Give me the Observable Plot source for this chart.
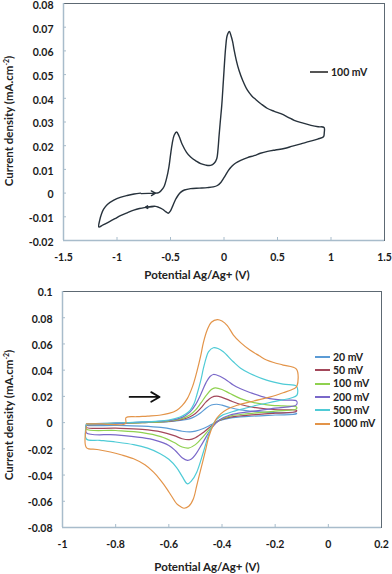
<!DOCTYPE html>
<html><head><meta charset="utf-8">
<script src="https://cdn.jsdelivr.net/npm/d3@7"></script>
<script src="https://cdn.jsdelivr.net/npm/@observablehq/plot@0.6"></script>
<style>
body{margin:0;background:#fff;}
#wrap{position:relative;width:392px;height:574px;font-family:Lato,"Open Sans",sans-serif;overflow:hidden;}
.panel{position:absolute;left:0;width:392px;}
.ov{position:absolute;white-space:nowrap;font-weight:bold;color:#222;font-size:11.5px;line-height:1;}
.ytitle{transform:translate(-50%,-50%) rotate(-90deg);}
.xtitle{transform:translate(-50%,-50%);}
.leg{position:absolute;font-weight:bold;font-size:10.5px;color:#222;white-space:nowrap;line-height:1;}
.leg span.sw{display:inline-block;vertical-align:middle;height:0;border-top:2px solid;margin-right:3px;}
.leg span.tx{vertical-align:middle;}
</style></head><body>
<div id="wrap">
  <div class="panel" id="top" style="top:0;height:285px;"></div>
  <div class="panel" id="bot" style="top:285px;height:289px;"></div>
</div>
<script>
// ---------- Top chart data ----------
const topXTicks = [-1.5, -1, -0.5, 0, 0.5, 1, 1.5];
const topYTicks = [-0.02, -0.01, 0, 0.01, 0.02, 0.03, 0.04, 0.05, 0.06, 0.07, 0.08];
const topSeriesName = "100 mV";
const topCV = [
  [-0.64,0.0],[-0.61,0.0002],[-0.585,0.0012],[-0.56,0.0028],[-0.535,0.0065],[-0.515,0.011],[-0.5,0.016],
  [-0.484,0.0209],[-0.465,0.0245],[-0.443,0.0258],[-0.42,0.024],[-0.39,0.0205],[-0.35,0.0172],[-0.312,0.0152],
  [-0.26,0.0135],[-0.218,0.0124],[-0.17,0.0118],[-0.125,0.0117],[-0.09,0.0127],[-0.068,0.0145],[-0.055,0.019],
  [-0.047,0.0237],[-0.035,0.03],[-0.021,0.037],[-0.005,0.048],[0.016,0.0617],[0.03,0.0665],[0.05,0.0682],
  [0.065,0.0665],[0.08,0.064],[0.094,0.0605],[0.115,0.056],[0.14,0.0518],[0.175,0.0475],[0.219,0.0434],
  [0.26,0.041],[0.297,0.0395],[0.35,0.0375],[0.407,0.0357],[0.47,0.0345],[0.531,0.0335],[0.6,0.032],
  [0.656,0.0307],[0.74,0.0295],[0.813,0.0286],[0.88,0.028],[0.935,0.0277],[0.937,0.0255],[0.93,0.0238],
  [0.875,0.0228],[0.8,0.0218],[0.719,0.0208],[0.64,0.0198],[0.562,0.0188],[0.48,0.0182],[0.407,0.0176],
  [0.34,0.0168],[0.281,0.0158],[0.22,0.015],[0.156,0.0138],[0.11,0.0127],[0.078,0.0115],[0.04,0.0095],
  [0.0,0.0065],[-0.03,0.0045],[-0.062,0.0032],[-0.1,0.0026],[-0.156,0.0023],[-0.23,0.0021],[-0.312,0.0019],
  [-0.37,0.0013],[-0.406,0.0003],[-0.43,-0.001],[-0.453,-0.0027],[-0.48,-0.0055],[-0.5,-0.0075],[-0.521,-0.0085],
  [-0.545,-0.0078],[-0.578,-0.0067],[-0.61,-0.006],[-0.64,-0.0056],[-0.69,-0.0057],[-0.734,-0.006],[-0.79,-0.0065],
  [-0.843,-0.0072],[-0.9,-0.0082],[-0.968,-0.0095],[-1.02,-0.0108],[-1.078,-0.0122],[-1.13,-0.0134],[-1.17,-0.0143],
  [-1.162,-0.0115],[-1.145,-0.0088],[-1.125,-0.0068],[-1.09,-0.0048],[-1.03,-0.003],[-0.97,-0.0018],[-0.905,-0.001],
  [-0.84,-0.0004],[-0.78,0.0]
];
const topArrows = [
  {x1:-0.775, y1:-0.0002, x2:-0.64, y2:0.0, dashed:true},
  {x1:-0.66, y1:-0.0057, x2:-0.735, y2:-0.006, dashed:false}
];

// ---------- Bottom chart data ----------
const botXTicks = [-1, -0.8, -0.6, -0.4, -0.2, 0, 0.2];
const botYTicks = [-0.08, -0.06, -0.04, -0.02, 0, 0.02, 0.04, 0.06, 0.08, 0.1];
const rates = ["20 mV", "50 mV", "100 mV", "200 mV", "500 mV", "1000 mV"];
const rateColors = ["#5b9bd5", "#a3475a", "#8fd14f", "#7a68c9", "#4fcbd6", "#e39449"];
const v20 = [
  [-0.91,-0.001],[-0.85,-0.0006],[-0.8,-0.0003],[-0.7,0.0002],[-0.6,0.0008],[-0.55,0.0018],[-0.52,0.003],
  [-0.5,0.0048],[-0.48,0.0075],[-0.46,0.011],[-0.44,0.0134],[-0.42,0.014],[-0.4,0.0133],[-0.37,0.0115],
  [-0.33,0.0097],[-0.28,0.0085],[-0.23,0.0078],[-0.17,0.0074],[-0.12,0.0072],
  [-0.12,0.0066],[-0.2,0.0058],[-0.3,0.0047],[-0.37,0.0034],[-0.41,0.0015],[-0.44,-0.0015],[-0.47,-0.0045],
  [-0.5,-0.0065],[-0.52,-0.0071],[-0.55,-0.0066],[-0.58,-0.0053],[-0.63,-0.0037],[-0.7,-0.0027],[-0.8,-0.0021],
  [-0.91,-0.0018],[-0.91,-0.001]
];
const v50 = [
  [-0.91,-0.0015],[-0.85,-0.001],[-0.8,-0.0006],[-0.7,0],[-0.6,0.001],[-0.55,0.0025],[-0.52,0.0045],[-0.5,0.007],
  [-0.48,0.011],[-0.46,0.0158],[-0.44,0.0192],[-0.42,0.0202],[-0.4,0.0193],[-0.37,0.0168],[-0.33,0.0138],
  [-0.28,0.0116],[-0.23,0.0104],[-0.17,0.0097],[-0.12,0.0094],
  [-0.12,0.0085],[-0.2,0.0072],[-0.3,0.0057],[-0.37,0.0042],[-0.41,0.0017],[-0.44,-0.0025],[-0.47,-0.0075],
  [-0.5,-0.0115],[-0.5225,-0.013],[-0.55,-0.0123],[-0.58,-0.0099],[-0.63,-0.007],[-0.7,-0.0052],[-0.8,-0.0042],
  [-0.91,-0.0036],[-0.91,-0.0015]
];
const v100 = [
  [-0.91,-0.002],[-0.85,-0.0013],[-0.8,-0.0008],[-0.7,0],[-0.6,0.0012],[-0.55,0.003],[-0.52,0.006],[-0.5,0.0095],
  [-0.48,0.0148],[-0.46,0.0205],[-0.44,0.0252],[-0.426,0.0265],[-0.4,0.0253],[-0.37,0.0222],[-0.33,0.0183],
  [-0.28,0.0152],[-0.23,0.0136],[-0.17,0.0127],[-0.12,0.012],
  [-0.12,0.0105],[-0.2,0.0088],[-0.3,0.0068],[-0.37,0.005],[-0.41,0.0018],[-0.44,-0.0035],[-0.47,-0.0105],
  [-0.5,-0.0168],[-0.526,-0.0194],[-0.55,-0.0186],[-0.58,-0.0152],[-0.63,-0.0107],[-0.7,-0.0076],[-0.8,-0.006],
  [-0.91,-0.005],[-0.91,-0.002]
];
const v200 = [
  [-0.91,-0.002],[-0.85,-0.0012],[-0.8,-0.0006],[-0.7,0.0003],[-0.6,0.0016],[-0.55,0.004],[-0.52,0.0082],
  [-0.5,0.0135],[-0.48,0.0215],[-0.46,0.0305],[-0.445,0.0352],[-0.4325,0.0367],[-0.41,0.0355],[-0.38,0.032],
  [-0.3575,0.0286],[-0.33,0.0258],[-0.295,0.023],[-0.2325,0.0189],[-0.17,0.0171],[-0.12,0.0166],
  [-0.12,0.0135],[-0.2,0.011],[-0.3,0.0082],[-0.37,0.0058],[-0.41,0.002],[-0.44,-0.0045],[-0.47,-0.0145],
  [-0.5,-0.0245],[-0.515,-0.0278],[-0.53,-0.0288],[-0.55,-0.0268],[-0.575,-0.0215],[-0.6,-0.0174],
  [-0.65,-0.0135],[-0.7,-0.0115],[-0.8,-0.0093],[-0.91,-0.0078],[-0.91,-0.002]
];
const v500 = [
  [-0.91,-0.0012],[-0.85,-0.0008],[-0.8,-0.0003],[-0.7,0.0005],[-0.65,0.001],[-0.6,0.002],[-0.5575,0.0043],
  [-0.535,0.0068],[-0.52,0.0094],[-0.505,0.0145],[-0.495,0.0209],[-0.48,0.032],[-0.47,0.0413],[-0.46,0.049],
  [-0.451,0.054],[-0.4325,0.0571],[-0.415,0.0565],[-0.395,0.054],[-0.3575,0.0464],[-0.33,0.0415],
  [-0.295,0.0375],[-0.2325,0.0324],[-0.17,0.0293],[-0.12,0.0278],
  [-0.118,0.021],[-0.14,0.0188],[-0.2,0.0162],[-0.28,0.0127],[-0.35,0.009],[-0.4,0.0055],[-0.42,0.0025],
  [-0.4325,-0.0008],[-0.451,-0.0097],[-0.47,-0.0224],[-0.495,-0.0378],[-0.515,-0.0445],[-0.53,-0.0467],
  [-0.55,-0.041],[-0.57,-0.0345],[-0.6,-0.028],[-0.6325,-0.0237],[-0.68,-0.0195],[-0.7325,-0.0168],
  [-0.8,-0.0148],[-0.86,-0.0135],[-0.91,-0.0125],[-0.91,-0.0012]
];
const v1000 = [
  [-0.91,-0.001],[-0.85,-0.0009],[-0.763,-0.0008],[-0.761,0.0038],[-0.72,0.0045],[-0.68,0.005],[-0.63,0.0058],
  [-0.6,0.007],[-0.57,0.0095],[-0.55,0.013],[-0.53,0.0185],[-0.51,0.028],[-0.495,0.0385],[-0.48,0.051],
  [-0.47,0.061],[-0.455,0.071],[-0.44,0.0765],[-0.4175,0.0786],[-0.4,0.0775],[-0.38,0.074],[-0.357,0.0668],
  [-0.33,0.061],[-0.295,0.0554],[-0.26,0.051],[-0.2325,0.0477],[-0.2,0.0455],[-0.17,0.0439],[-0.12,0.0408],
  [-0.118,0.028],[-0.13,0.0258],[-0.17,0.0228],[-0.2175,0.0196],[-0.28,0.0165],[-0.343,0.0132],[-0.38,0.0102],
  [-0.406,0.0065],[-0.42,0.0032],[-0.431,-0.0008],[-0.45,-0.011],[-0.462,-0.0212],[-0.4825,-0.0378],
  [-0.495,-0.048],[-0.5075,-0.058],[-0.525,-0.0638],[-0.5425,-0.0653],[-0.555,-0.0642],[-0.57,-0.062],
  [-0.59,-0.056],[-0.6075,-0.0505],[-0.63,-0.0443],[-0.6575,-0.0378],[-0.69,-0.0322],[-0.7325,-0.0276],
  [-0.78,-0.0245],[-0.82,-0.0224],[-0.87,-0.0205],[-0.91,-0.019],[-0.91,-0.003]
];
const botArrow = [{x1:-0.7475, y1:0.0196, x2:-0.635, y2:0.0196}];

// ---------- styling ----------
const frameDark = "#5d6973";
const axisLight = "#a8bccb";
const fmt = d => String(Math.round(d * 100) / 100);
const axisStyle = {fontFamily: "Lato, 'Open Sans', sans-serif", fontSize: "10.5px", fontWeight: "bold", color: "#1a1a1a", background: "white", overflow: "visible"};

// ---------- Top chart ----------
{
  const W = 392, H = 285, mt = 3, mb = 45, ml = 63, mr = 8;
  const fw = W - ml - mr, fh = H - mt - mb;
  const data = topCV.map(([x, y]) => ({x, y}));
  const chart = Plot.plot({
    width: W, height: H, marginTop: mt, marginBottom: mb, marginLeft: ml, marginRight: mr,
    x: {domain: [topXTicks[0], topXTicks[topXTicks.length - 1]]},
    y: {domain: [topYTicks[0], topYTicks[topYTicks.length - 1]]},
    style: axisStyle,
    marks: [
      Plot.frame({stroke: frameDark, strokeWidth: 1}),
      Plot.ruleX([topXTicks[0]], {stroke: axisLight, strokeWidth: 1.5}),
      Plot.ruleY([topYTicks[0]], {stroke: axisLight, strokeWidth: 1.5}),
      Plot.ruleX(topXTicks.slice(1, -1), {stroke: axisLight, insetTop: fh - 3}),
      Plot.ruleY(topYTicks.slice(1, -1), {stroke: axisLight, insetRight: fw - 3}),
      Plot.axisX(topXTicks, {tickSize: 0, tickPadding: 13, tickFormat: fmt, label: null}),
      Plot.axisY(topYTicks, {tickSize: 0, tickPadding: 10, dy: 2, tickFormat: fmt, label: null}),
      Plot.line(data, {x: "x", y: "y", curve: "catmull-rom", stroke: "#27323c", strokeWidth: 1.4}),
      Plot.arrow(topArrows, {x1: "x1", y1: "y1", x2: "x2", y2: "y2", stroke: "#27323c", strokeWidth: 1.3,
        headLength: 7, bend: 0, strokeDasharray: d => d.dashed ? "3,2" : null})
    ]
  });
  const host = document.getElementById("top");
  host.appendChild(chart);
  const yt = document.createElement("div");
  yt.className = "ov ytitle";
  yt.style.left = "9px"; yt.style.top = "121px";
  yt.innerHTML = "Current density (mA.cm<sup style='font-size:7px;vertical-align:4px'>-2</sup>)";
  host.appendChild(yt);
  const xt = document.createElement("div");
  xt.className = "ov xtitle";
  xt.style.left = "197px"; xt.style.top = "275px";
  xt.textContent = "Potential Ag/Ag+ (V)";
  host.appendChild(xt);
  const lg = document.createElement("div");
  lg.className = "leg";
  lg.style.left = "310px"; lg.style.top = "66px";
  lg.innerHTML = `<span class="sw" style="width:18px;border-color:#555"></span><span class="tx">${topSeriesName}</span>`;
  host.appendChild(lg);
}

// ---------- Bottom chart ----------
{
  const W = 392, H = 289, mt = 6, mb = 47, ml = 62, mr = 11;
  const fw = W - ml - mr, fh = H - mt - mb;
  const seriesArrays = [v20, v50, v100, v200, v500, v1000];
  const rows = [];
  seriesArrays.forEach((arr, i) => arr.forEach(([x, y], j) => rows.push({x, y, rate: rates[i], order: j})));
  const chart = Plot.plot({
    width: W, height: H, marginTop: mt, marginBottom: mb, marginLeft: ml, marginRight: mr,
    x: {domain: [botXTicks[0], botXTicks[botXTicks.length - 1]]},
    y: {domain: [botYTicks[0], botYTicks[botYTicks.length - 1]]},
    color: {domain: rates, range: rateColors},
    style: axisStyle,
    marks: [
      Plot.frame({stroke: frameDark, strokeWidth: 1}),
      Plot.ruleX([botXTicks[0]], {stroke: axisLight, strokeWidth: 1.5}),
      Plot.ruleY([botYTicks[0]], {stroke: axisLight, strokeWidth: 1.5}),
      Plot.ruleX(botXTicks.slice(1, -1), {stroke: axisLight, insetTop: fh - 3}),
      Plot.ruleY(botYTicks.slice(1, -1), {stroke: axisLight, insetRight: fw - 3}),
      Plot.axisX(botXTicks, {tickSize: 0, tickPadding: 13, tickFormat: fmt, label: null}),
      Plot.axisY(botYTicks, {tickSize: 0, tickPadding: 10, dy: 1.5, tickFormat: fmt, label: null}),
      Plot.line(rows, {x: "x", y: "y", z: "rate", stroke: "rate", curve: "catmull-rom", strokeWidth: 1.2}),
      Plot.arrow(botArrow, {x1: "x1", y1: "y1", x2: "x2", y2: "y2", stroke: "#111", strokeWidth: 1.8, headLength: 8, bend: 0})
    ]
  });
  const host = document.getElementById("bot");
  host.appendChild(chart);
  const yt = document.createElement("div");
  yt.className = "ov ytitle";
  yt.style.left = "9px"; yt.style.top = "130px";
  yt.innerHTML = "Current density (mA.cm<sup style='font-size:7px;vertical-align:4px'>-2</sup>)";
  host.appendChild(yt);
  const xt = document.createElement("div");
  xt.className = "ov xtitle";
  xt.style.left = "207px"; xt.style.top = "282px";
  xt.textContent = "Potential Ag/Ag+ (V)";
  host.appendChild(xt);
  rates.forEach((r, i) => {
    const lg = document.createElement("div");
    lg.className = "leg";
    lg.style.left = "315px"; lg.style.top = (65.5 + i * 13.35) + "px";
    lg.innerHTML = `<span class="sw" style="width:15px;border-color:${rateColors[i]}"></span><span class="tx">${r}</span>`;
    host.appendChild(lg);
  });
}
</script>
</body></html>
